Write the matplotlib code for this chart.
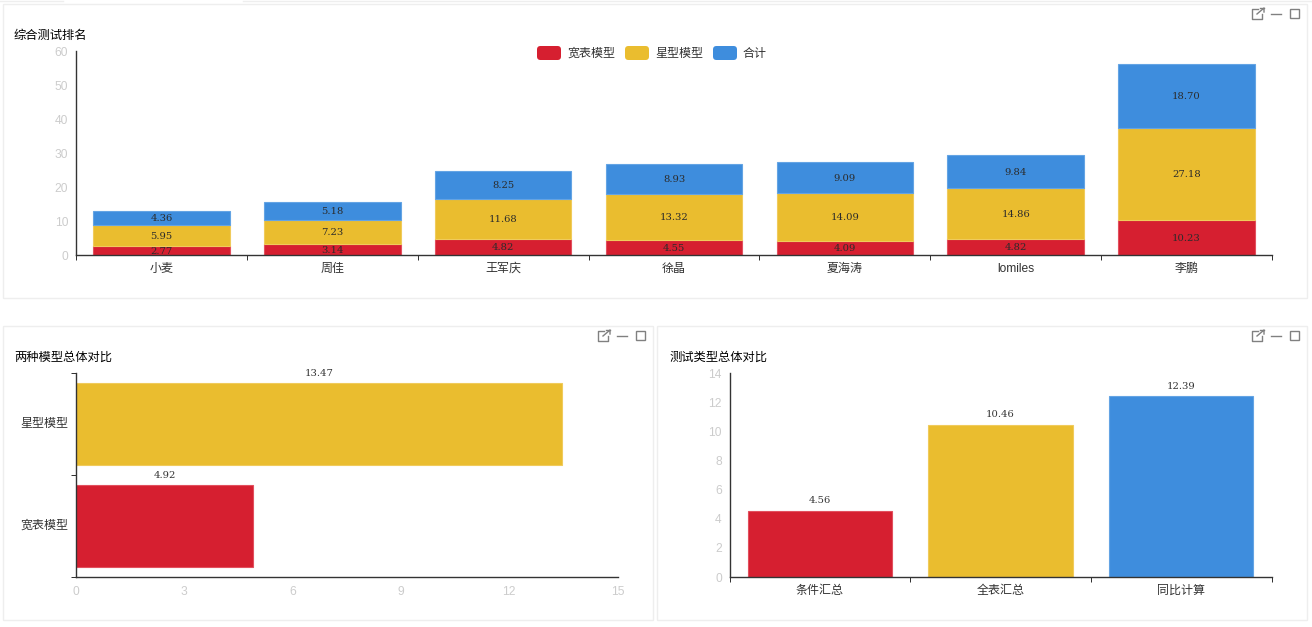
import matplotlib
matplotlib.use("Agg")
import matplotlib.pyplot as plt
from matplotlib.patches import FancyBboxPatch, Rectangle

plt.rcParams['font.family'] = ['Liberation Sans', 'Noto Sans CJK SC', 'DejaVu Sans']

# data
people = ["小麦", "周佳", "王军庆", "徐晶", "夏海涛", "lomiles", "李鹏"]
wide_scores = [2.77, 3.14, 4.82, 4.55, 4.09, 4.82, 10.23]
star_scores = [5.95, 7.23, 11.68, 13.32, 14.09, 14.86, 27.18]
total_scores = [4.36, 5.18, 8.25, 8.93, 9.09, 9.84, 18.70]
series_names = ["宽表模型", "星型模型", "合计"]

model_names = ["宽表模型", "星型模型"]
model_values = [4.92, 13.47]

test_types = ["条件汇总", "全表汇总", "同比计算"]
test_values = [4.56, 10.46, 12.39]

RED = '#d61f30'
YELLOW = '#eabd2f'
BLUE = '#3e8ddd'
EDGE = {RED: '#e2505e', YELLOW: '#f0cb5c', BLUE: '#64a4e4'}
AXIS = '#333333'
TICK = '#cccccc'
W, H = 1312, 627
FS = 8.64  # 12px at dpi 100
VAL_FS = 7.2
VAL_FONT = ['DejaVu Serif']

fig = plt.figure(figsize=(W / 100, H / 100), dpi=100, facecolor='white')

# full figure layer in pixel coords for the panel frames, icons, legend
bg = fig.add_axes([0, 0, 1, 1], zorder=0)
bg.set_xlim(1, W + 1)
bg.set_ylim(H + 1, 1)
bg.axis('off')


def make_axes(x0, y0, x1, y1):
    ax = fig.add_axes([x0 / W, 1 - y1 / H, (x1 - x0) / W, (y1 - y0) / H], zorder=2)
    ax.patch.set_alpha(0)
    for s in ['top', 'right']:
        ax.spines[s].set_visible(False)
    for s in ['left', 'bottom']:
        ax.spines[s].set_color(AXIS)
        ax.spines[s].set_linewidth(1)
    return ax


def panel(x0, y0, x1, y1, title, title_x, title_y):
    bg.add_patch(Rectangle((x0, y0), x1 - x0, y1 - y0, fc='white', ec='#eeeeee', lw=1))
    bg.text(title_x, title_y, title, fontsize=8.85, color='black', va='center', ha='left')
    # toolbox icons, right aligned to the frame
    c = '#808080'
    ix = x1 - 54.5
    iy = y0 + 5.5
    bg.plot([ix + 6, ix, ix, ix + 10, ix + 10], [iy, iy, iy + 10, iy + 10, iy + 5], color=c, lw=1)
    bg.plot([ix + 5, ix + 12, ix + 12], [iy + 5, iy - 1, iy + 3], color=c, lw=1)
    bg.plot([ix + 8, ix + 12], [iy - 1, iy - 1], color=c, lw=1)
    bg.plot([ix + 19, ix + 29], [iy + 4.5, iy + 4.5], color=c, lw=1)
    bg.add_patch(Rectangle((ix + 37.5, iy), 9, 9, fc='none', ec=c, lw=1))


def category_ticks(ax, n):
    # ticks on the band edges, labels in the band centres
    ax.set_xlim(-0.5, n - 0.5)
    ax.set_xticks([i - 0.5 for i in range(n + 1)])
    ax.set_xticklabels([])
    ax.tick_params(axis='x', length=3.6, width=0.72, color=AXIS)


def bars_edge(color):
    return dict(color=color, edgecolor=EDGE[color], linewidth=0.8)


# tab strip remnants above the first panel
bg.plot([0, 64], [1.5, 1.5], color='#eeeeee', lw=1)
bg.plot([244, W + 1], [1.5, 1.5], color='#eeeeee', lw=1)

panel(3.5, 4.5, 1307.5, 298.5, "综合测试排名", 15, 37)
panel(3.5, 326.5, 653.5, 620.5, "两种模型总体对比", 15, 359)
panel(657.5, 326.5, 1307.5, 620.5, "测试类型总体对比", 670, 359)

# top stacked chart
ax1 = make_axes(76, 51, 1272, 255)
pos = list(range(len(people)))
bottom = [0] * len(people)
for values, color in zip([wide_scores, star_scores, total_scores], [RED, YELLOW, BLUE]):
    ax1.bar(pos, values, width=0.8, bottom=bottom, **bars_edge(color))
    for p, v, b in zip(pos, values, bottom):
        ax1.annotate(f"{v:.2f}", (p, b + v / 2), xytext=(0, -0.6), textcoords='offset points',
                     ha='center', va='center', fontsize=VAL_FS, family=VAL_FONT, color='#2b2b2b')
    bottom = [b + v for b, v in zip(bottom, values)]
category_ticks(ax1, len(people))
for p, name in zip(pos, people):
    ax1.annotate(name, (p, 0), xytext=(0, -10.1), textcoords='offset points', ha='center',
                 va='center', fontsize=FS, color='#333333', annotation_clip=False)
ax1.set_ylim(0, 60)
ax1.set_yticks([0, 10, 20, 30, 40, 50, 60])
ax1.tick_params(axis='y', length=0, pad=5.5, labelsize=FS, labelcolor=TICK)

# legend drawn by hand for the pill shaped swatches
lx = [538, 626, 714]
for x, name, color in zip(lx, series_names, [RED, YELLOW, BLUE]):
    bg.add_patch(FancyBboxPatch((x + 3, 50), 18, 8, boxstyle="round,pad=3,rounding_size=3.5",
                                fc=color, ec='none'))
    bg.text(x + 30, 55, name, fontsize=FS, color='#333333', va='center', ha='left')

# bottom left horizontal bars
ax2 = make_axes(75.5, 373, 617.5, 577)
ypos = list(range(len(model_names)))
for y, v, color in zip(ypos, model_values, [RED, YELLOW]):
    ax2.barh(y, v, height=0.8, **bars_edge(color))
    ax2.annotate(f"{v:.2f}", (v / 2, y + 0.4), xytext=(0, 6.9), textcoords='offset points',
                 ha='center', va='center', fontsize=VAL_FS, family=VAL_FONT, color='#333333',
                 annotation_clip=False)
ax2.set_xlim(0, 15)
ax2.set_ylim(-0.5, 1.5)
ax2.set_xticks([0, 3, 6, 9, 12, 15])
ax2.tick_params(axis='x', length=0, pad=6.5, labelsize=FS, labelcolor=TICK)
ax2.set_yticks([-0.5, 0.5, 1.5])
ax2.set_yticklabels([])
ax2.tick_params(axis='y', length=3.6, width=0.72, color=AXIS)
for y, name in zip(ypos, model_names):
    ax2.annotate(name, (0, y), xytext=(-5, 0.2), textcoords='offset points', ha='right',
                 va='center', fontsize=FS, color='#333333', annotation_clip=False)

# bottom right bars
ax3 = make_axes(729.5, 373, 1271.5, 577)
tpos = list(range(len(test_types)))
for p, v, color in zip(tpos, test_values, [RED, YELLOW, BLUE]):
    ax3.bar(p, v, width=0.8, **bars_edge(color))
    ax3.annotate(f"{v:.2f}", (p, v), xytext=(0, 6.9), textcoords='offset points', ha='center',
                 va='center', fontsize=VAL_FS, family=VAL_FONT, color='#333333')
category_ticks(ax3, len(test_types))
for p, name in zip(tpos, test_types):
    ax3.annotate(name, (p, 0), xytext=(0, -10.1), textcoords='offset points', ha='center',
                 va='center', fontsize=FS, color='#333333', annotation_clip=False)
ax3.set_ylim(0, 14)
ax3.set_yticks([0, 2, 4, 6, 8, 10, 12, 14])
ax3.tick_params(axis='y', length=0, pad=5.5, labelsize=FS, labelcolor=TICK)

plt.savefig("out.png", dpi=100)
